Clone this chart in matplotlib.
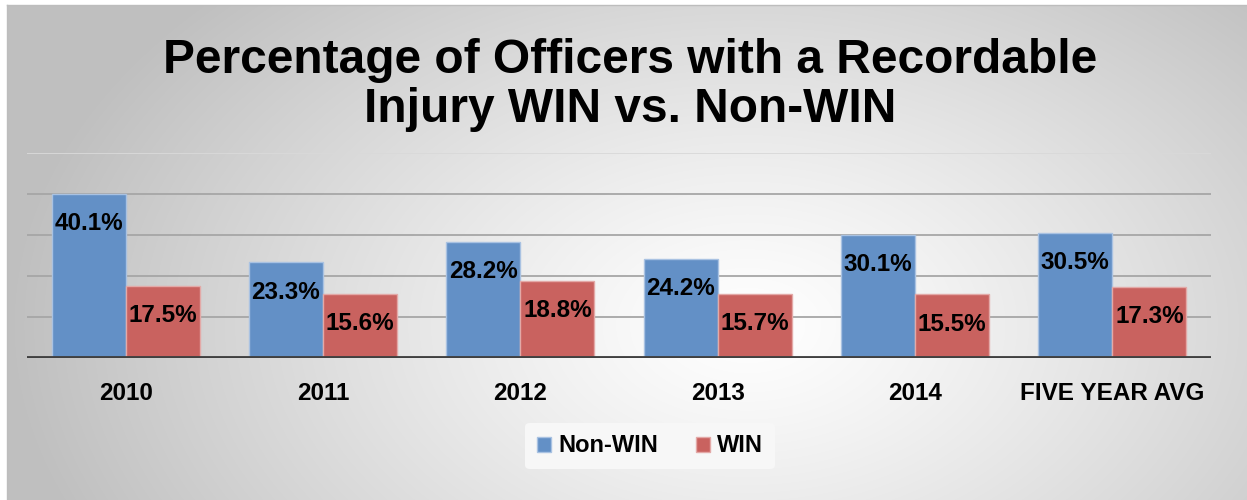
import numpy as np
import matplotlib.pyplot as plt

# ----------------------------
# Data
# ----------------------------
categories = ["2010", "2011", "2012", "2013", "2014", "FIVE YEAR AVG"]
non_win = [40.1, 23.3, 28.2, 24.2, 30.1, 30.5]
win = [17.5, 15.6, 18.8, 15.7, 15.5, 17.3]
series_names = ["Non-WIN", "WIN"]

BLUE = "#6390c6"
RED = "#c9625f"
W, H = 1247, 500

plt.rcParams["font.family"] = ["Liberation Sans", "DejaVu Sans"]
plt.rcParams["font.weight"] = "bold"

fig = plt.figure(figsize=(W / 100, H / 100), dpi=100)
fig.patch.set_facecolor("white")

# ----------------------------
# Background: radial gray gradient
# ----------------------------
bg = fig.add_axes([7 / W, 0, 1 - 7 / W, 1 - 5 / H], zorder=0)
yy, xx = np.mgrid[0:495, 0:1240]
cx, cy = 740, 320
r = np.sqrt(((xx - cx) / 740.0) ** 2 + ((yy - cy) / 480.0) ** 2)
shade = 1.0 - 0.25 * np.clip(r, 0, 1) ** 1.2
bg.imshow(np.dstack([shade] * 3), aspect="auto", interpolation="bilinear")
bg.set_axis_off()
fig.add_artist(plt.Line2D([7 / W, 7 / W], [0, 1 - 5 / H], color="#bdbdbd", lw=1))
fig.add_artist(plt.Line2D([7 / W, 1], [1 - 5 / H, 1 - 5 / H], color="#bdbdbd", lw=1))

# ----------------------------
# Bars
# ----------------------------
ax = fig.add_axes([27 / W, (H - 358) / H, (1211 - 27) / W, (358 - 153) / H], zorder=2)
ax.patch.set_alpha(0)
x = np.arange(len(categories))
bw = 0.375
b1 = ax.bar(x - bw / 2, non_win, bw, color=BLUE, edgecolor="#a9c2e2", lw=1, zorder=3,
            label=series_names[0])
b2 = ax.bar(x + bw / 2, win, bw, color=RED, edgecolor="#e3a9a7", lw=1, zorder=3,
            label=series_names[1])

for bars, vals in ((b1, non_win), (b2, win)):
    for rect, v in zip(bars, vals):
        ax.annotate(f"{v:.1f}%", (rect.get_x() + rect.get_width() / 2, v),
                    xytext=(0, -13), textcoords="offset points",
                    ha="center", va="top", fontsize=17.5, fontweight="bold",
                    color="black", zorder=4)

ax.set_xlim(-0.5, len(categories) - 0.5)
ax.set_ylim(0, 50)
for g in (10, 20, 30, 40):
    ax.axhline(g, color="#a6a6a6", lw=1.3, zorder=1)
ax.axhline(50, color="#d9d9d9", lw=1.3, zorder=1)
ax.axhline(0, color="#404040", lw=3.5, zorder=5)

for s in ax.spines.values():
    s.set_visible(False)
ax.set_yticks([])
ax.set_xticks(x)
ax.set_xticklabels(categories, fontsize=17.5, fontweight="bold")
ax.tick_params(axis="x", length=0, pad=17)

# ----------------------------
# Title + legend
# ----------------------------
fig.text(0.505, 1 - 85 / H, "Percentage of Officers with a Recordable\nInjury WIN vs. Non-WIN",
         ha="center", va="center", fontsize=34.5, fontweight="bold", linespacing=1.13,
         zorder=3)

leg = fig.legend(handles=[b1, b2], loc="center", bbox_to_anchor=(650 / W, 1 - 446 / H),
                 ncol=2, frameon=True, fontsize=17, handlelength=0.6, handleheight=0.6,
                 handletextpad=0.3, columnspacing=1.6, borderpad=0.5)
leg.get_frame().set_facecolor("#f7f7f7")
leg.get_frame().set_edgecolor("none")
leg.get_frame().set_alpha(1)
for t in leg.get_texts():
    t.set_fontweight("bold")

fig.savefig("out.png", dpi=100)
